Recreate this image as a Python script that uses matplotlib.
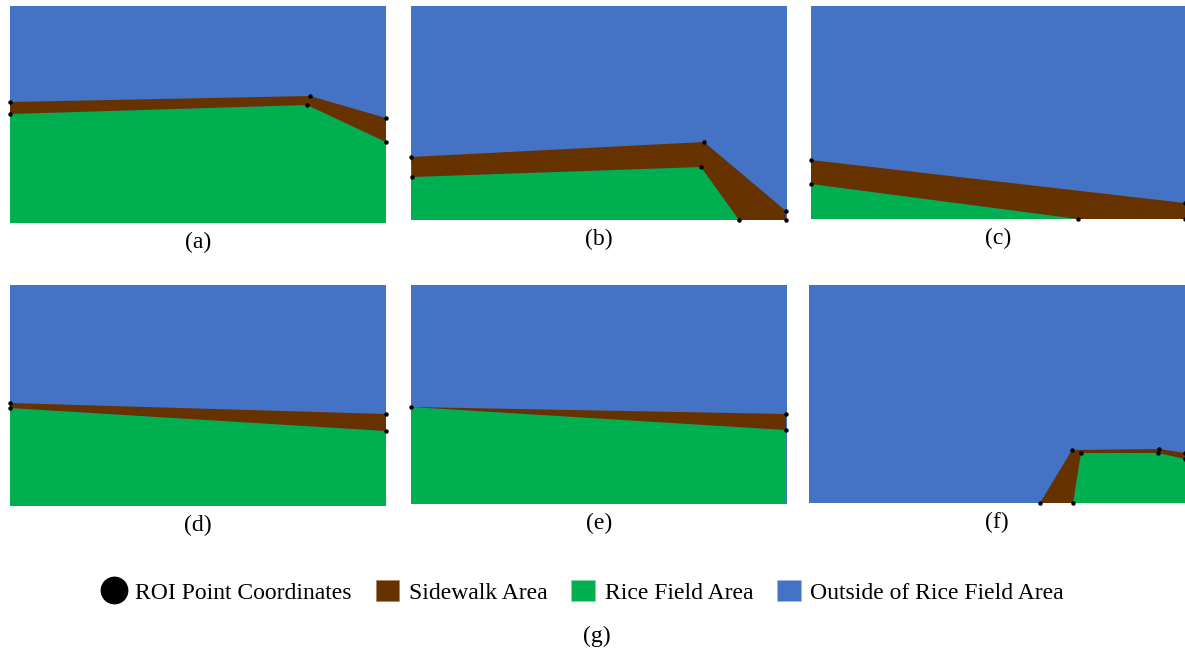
import matplotlib.pyplot as plt
from matplotlib.patches import Polygon, Patch
from matplotlib.lines import Line2D

plt.rcParams['font.family'] = ['Liberation Serif', 'DejaVu Serif']

BLUE = '#4472C4'
BROWN = '#663300'
GREEN = '#00B050'

# panel id -> (left, top, width, height) in figure pixels
panel_names = ['(a)', '(b)', '(c)', '(d)', '(e)', '(f)']
panel_boxes = [(10, 6, 376, 217), (411, 6, 376, 214), (811, 6, 374, 213),
               (10, 285, 376, 221), (411, 285, 376, 219), (809, 285, 376, 218)]

# ROI points (frame pixels, origin top-left)
roi_a = [(0, 96), (0, 108), (300, 90), (297, 99), (376, 112), (376, 136)]
roi_b = [(0, 151), (1, 171), (293, 136), (290, 161), (328, 214), (375, 205), (375, 214)]
roi_c = [(0, 154), (0, 178), (267, 213), (374, 197), (374, 213)]
roi_d = [(0, 118), (0, 123), (376, 129), (376, 146)]
roi_e = [(0, 122), (375, 129), (375, 145)]
roi_f = [(231, 218), (264, 218), (263, 165), (272, 168), (350, 164), (349, 168),
         (376, 168), (376, 174)]

# sidewalk polygons
side_a = [(0, 96), (300, 90), (376, 112), (376, 136), (297, 99), (0, 108)]
side_b = [(0, 151), (293, 136), (375, 205), (375, 214), (328, 214), (290, 161), (1, 171)]
side_c = [(0, 154), (374, 197), (374, 213), (267, 213), (0, 178)]
side_d = [(0, 118), (376, 129), (376, 146), (0, 123)]
side_e = [(0, 122), (375, 129), (375, 145)]
side_f = [(231, 218), (263, 165), (350, 164), (376, 168), (376, 174), (349, 168),
          (272, 168), (264, 218)]

# rice field polygons
rice_a = [(0, 108), (297, 99), (376, 136), (376, 217), (0, 217)]
rice_b = [(1, 171), (290, 161), (328, 214), (0, 214)]
rice_c = [(0, 178), (267, 213), (0, 213)]
rice_d = [(0, 123), (376, 146), (376, 221), (0, 221)]
rice_e = [(0, 122), (375, 145), (375, 219), (0, 219)]
rice_f = [(264, 218), (272, 168), (349, 168), (376, 174), (376, 218)]

rois = [roi_a, roi_b, roi_c, roi_d, roi_e, roi_f]
sides = [side_a, side_b, side_c, side_d, side_e, side_f]
rices = [rice_a, rice_b, rice_c, rice_d, rice_e, rice_f]

FW, FH = 1185, 654
fig = plt.figure(figsize=(FW / 100, FH / 100), dpi=100)

for name, box, roi, side, rice in zip(panel_names, panel_boxes, rois, sides, rices):
    x0, y0, w, h = box
    ax = fig.add_axes([x0 / FW, 1 - (y0 + h) / FH, w / FW, h / FH])
    ax.set_xlim(0, w)
    ax.set_ylim(h, 0)
    ax.set_facecolor(BLUE)
    ax.add_patch(Polygon(rice, closed=True, facecolor=GREEN, edgecolor='none'))
    ax.add_patch(Polygon(side, closed=True, facecolor=BROWN, edgecolor='none'))
    xs = [p[0] for p in roi]
    ys = [p[1] for p in roi]
    ax.plot(xs, ys, 'o', color='black', markersize=2.2, clip_on=False)
    ax.set_xticks([])
    ax.set_yticks([])
    for s in ax.spines.values():
        s.set_visible(False)
    fig.text((x0 + w / 2) / FW, 1 - (y0 + h + 19) / FH, name,
             ha='center', va='center', fontsize=17)

handles = [
    Line2D([], [], marker='o', linestyle='none', color='black', markersize=19),
    Patch(facecolor=BROWN, edgecolor='#b08060', linewidth=0.5),
    Patch(facecolor=GREEN, edgecolor='#80d8a0', linewidth=0.5),
    Patch(facecolor=BLUE, edgecolor='#a0b8e0', linewidth=0.5),
]
labels = ['ROI Point Coordinates', 'Sidewalk Area', 'Rice Field Area',
          'Outside of Rice Field Area']
fig.legend(handles, labels, loc='center', bbox_to_anchor=(583 / FW, 1 - 592 / FH),
           ncol=4, frameon=False, fontsize=17, handlelength=1.0, handleheight=1.0,
           handletextpad=0.42, columnspacing=1.0)
fig.text(597 / FW, 1 - 636 / FH, '(g)', ha='center', va='center', fontsize=17)

plt.savefig('out.png', dpi=100)
